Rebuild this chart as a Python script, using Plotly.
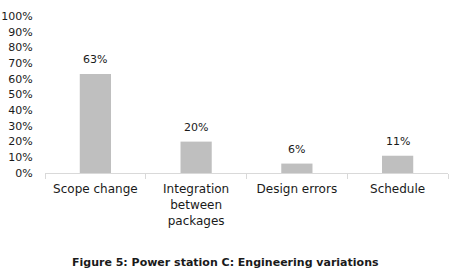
import plotly.graph_objects as go

categories = ["Scope change", "Integration<br>between<br>packages", "Design errors", "Schedule"]
values = [0.63, 0.20, 0.06, 0.11]
value_labels = ["63%", "20%", "6%", "11%"]
y_ticks = [i / 10 for i in range(11)]
caption = "Figure 5: Power station C: Engineering variations"

font_family = "DejaVu Sans"
text_color = "#1a1a1a"

fig = go.Figure(go.Bar(
    x=categories,
    y=values,
    width=0.31,
    marker=dict(color="#bfbfbf", line=dict(width=0)),
    hoverinfo="x+y",
))

for cat, val, lab in zip(categories, values, value_labels):
    fig.add_annotation(
        x=cat, y=val, text=lab,
        xref="x", yref="y",
        showarrow=False,
        yanchor="bottom", yshift=6,
        font=dict(family=font_family, size=11, color=text_color),
    )

fig.update_layout(
    width=458,
    height=271,
    margin=dict(l=45, r=10, t=16, b=98),
    paper_bgcolor="white",
    plot_bgcolor="white",
    showlegend=False,
    font=dict(family=font_family, size=11, color=text_color),
)

fig.update_yaxes(
    range=[0, 1],
    tickvals=y_ticks,
    tickformat=".0%",
    showgrid=False,
    zeroline=False,
    showline=False,
    ticks="outside",
    ticklen=9,
    tickcolor="rgba(0,0,0,0)",
    tickfont=dict(size=11),
    automargin=False,
)

fig.update_xaxes(
    showline=True,
    linecolor="#d9d9d9",
    linewidth=1,
    ticks="outside",
    tickson="boundaries",
    ticklen=5,
    tickcolor="#d9d9d9",
    showgrid=False,
    tickfont=dict(size=12),
    tickangle=0,
    ticklabelstandoff=5,
    automargin=False,
)

fig.add_annotation(
    text="<b>" + caption + "</b>",
    xref="paper", yref="paper",
    x=0.447, y=-0.567,
    xanchor="center", yanchor="middle",
    showarrow=False,
    font=dict(family=font_family, size=11, color=text_color),
)

fig.write_html(
    "out.html",
    config={"displayModeBar": False},
    post_script="document.body.style.margin='0';",
)
